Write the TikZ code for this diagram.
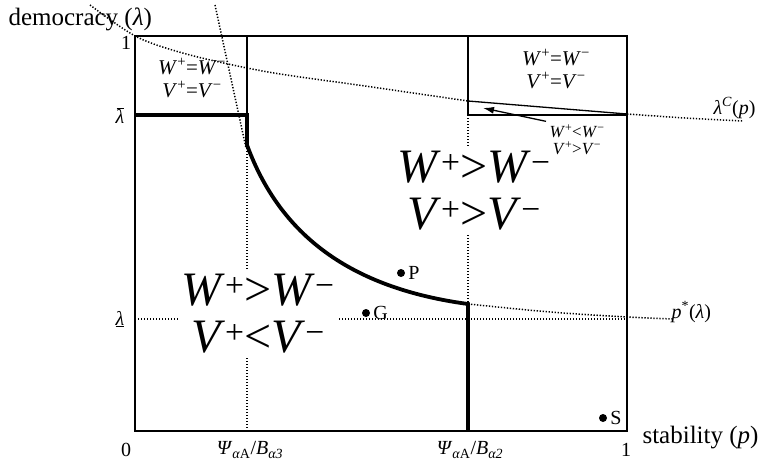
\documentclass[tikz,border=0pt]{standalone}
\usepackage{fontspec}
\setmainfont{Liberation Serif}
\usetikzlibrary{arrows.meta}

\newcommand{\Wp}{\textit{W}\textsuperscript{+}}
\newcommand{\Wm}{\textit{W}\textsuperscript{−}}
\newcommand{\Vp}{\textit{V}\textsuperscript{+}}
\newcommand{\Vm}{\textit{V}\textsuperscript{−}}
\newcommand{\lam}{\textit{λ}}
\newcommand{\PsiB}[1]{\textit{Ψ}\textsubscript{\textit{α}A}/\textit{B}\textsubscript{\textit{α#1}}}

\begin{document}
\begin{tikzpicture}[x=1pt,y=-1pt]
  \tikzstyle{frame}=[line width=1.5pt]
  \tikzstyle{bound}=[line width=3.8pt]
  \tikzstyle{guide}=[line width=1.5pt,dash pattern=on 1.3pt off 1.7pt]
  \tikzstyle{big}=[align=center,fill=white,inner sep=3pt,font=\fontsize{48}{47}\selectfont]
  \tikzstyle{mid}=[align=center,font=\fontsize{21}{23}\selectfont]
  \tikzstyle{tick}=[font=\fontsize{20}{20}\selectfont]
  \tikzstyle{axis}=[font=\fontsize{25}{26}\selectfont]
  \tikzstyle{dot}=[circle,fill=black,minimum size=8pt,inner sep=0pt]

  \useasboundingbox (0,0) rectangle (762,466);

  % dotted guides
  \draw[guide] (247,145) -- (247,431);
  \draw[guide] (468,115) -- (468,304);
  \draw[guide] (135,319) -- (627,319);
  \draw[guide] (215,5) -- (246,148);
  \draw[guide] plot[smooth] coordinates {(90,5) (137,37) (190,55) (268,72) (365,86) (468,101)};
  \draw[guide] plot[smooth] coordinates {(627,114) (685,118) (743,121)};
  \draw[guide] plot[smooth] coordinates {(468,304) (550,312) (627,317) (673,319)};

  % regions
  \node[big] (hiV) at (474,191) {\Wp>\Wm\\\Vp>\Vm};
  \node[big] (loV) at (258,314) {\Wp>\Wm\\\Vp<\Vm};
  \node[mid] (eqL) at (192,78) {\Wp=\Wm\\\Vp=\Vm};
  \node[mid] (eqR) at (556,69) {\Wp=\Wm\\\Vp=\Vm};
  \node[align=center,font=\fontsize{17}{17}\selectfont] (lt) at (577,140) {\Wp<\Wm\\\Vp>\Vm};

  % frame and boundaries
  \draw[frame] (135,36) rectangle (627,431);
  \draw[frame] (247,36) -- (247,115);
  \draw[frame] (468,36) -- (468,115) -- (627,115);
  \draw[line width=1.3pt] (468,101) -- (627,114);
  \draw[bound] (135,115) -- (247,115) -- (247,145)
    .. controls (280,235) and (350,288) .. (468,304) -- (468,431);

  \coordinate (tipC) at (483,108);
  \draw[-{Latex[length=11pt,width=7pt]},line width=1.3pt] (lt.north west) -- (tipC);

  % points
  \foreach \name/\x/\y in {P/401/273, G/366/313, S/603/418}
    \node[dot,label={[tick,inner sep=1pt,label distance=2pt]right:\name}] (pt-\name) at (\x,\y) {};

  % axes labels
  \node[axis,anchor=base west] (ylab) at (5,25) {democracy (\lam)};
  \node[axis,anchor=base west] (xlab) at (639,443) {stability (\textit{p})};
  \node[tick] (y1) at (126,43) {1};
  \node[tick] (ybar) at (120,116) {\shortstack{\rule[2pt]{7pt}{0.9pt}\\[-4pt]\lam}};
  \node[tick] (yund) at (120,319) {\underline{\lam}};
  \node[tick] (x0) at (126,450) {0};
  \node[tick] (x3) at (250,450) {\PsiB{3}};
  \node[tick] (x2) at (470,450) {\PsiB{2}};
  \node[tick] (x1) at (626,450) {1};
  \node[tick,anchor=west] (lc) at (710,108) {\lam\textsuperscript{\textit{C}}(\textit{p})};
  \node[tick,anchor=west] (ps) at (668,312) {\textit{p}\textsuperscript{*}(\lam)};
\end{tikzpicture}
\end{document}
